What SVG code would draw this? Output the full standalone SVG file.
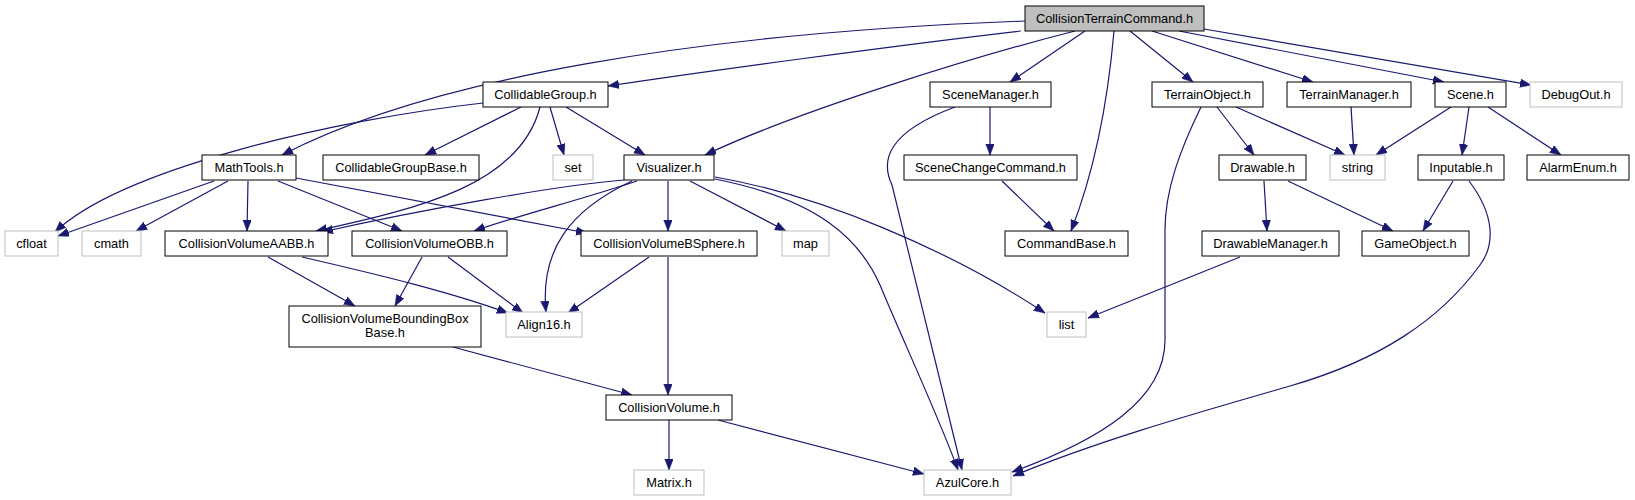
<svg xmlns="http://www.w3.org/2000/svg" width="1635" height="500" viewBox="0 0 1635 500">
<style>
.n rect{fill:#ffffff;stroke:#000000;stroke-width:1}
.g rect{fill:#ffffff;stroke:#bfbfbf;stroke-width:1}
.root rect{fill:#bfbfbf;stroke:#000000;stroke-width:1}
text{font-family:"Liberation Sans",Arial,sans-serif;font-size:12.8px;fill:#000000;text-anchor:middle}
#edges path{fill:none;stroke:#191970;stroke-width:1.2;marker-end:url(#arr)}
</style>
<defs>
<marker id="arr" markerUnits="userSpaceOnUse" markerWidth="12" markerHeight="9" refX="11" refY="4.25" orient="auto">
<path d="M0,0 L11,4.25 L0,8.5 z" fill="#191970" stroke="#191970" stroke-width="0.5"/>
</marker>
</defs>
<rect width="1635" height="500" fill="#ffffff"/>
<g id="edges">
<path d="M1025,21 C700,33 430,78 282,155"/>
<path d="M1021,31 C900,45 700,72 608,86"/>
<path d="M1075,31 C980,55 800,110 705,155"/>
<path d="M1085,31 L1010,82"/>
<path d="M1114,31 C1108,100 1095,170 1071,231"/>
<path d="M1130,31 L1193,82"/>
<path d="M1152,31 L1313,82"/>
<path d="M1179,31 L1444,82"/>
<path d="M1204,29 L1531,85"/>
<path d="M483,103 C330,120 120,170 55,232"/>
<path d="M521,107 L425,155"/>
<path d="M550,107 L564,155"/>
<path d="M566,107 L645,155"/>
<path d="M540,107 C520,185 420,208 316,231"/>
<path d="M214,181 L58,236"/>
<path d="M228,181 L136,231"/>
<path d="M248,181 L247,231"/>
<path d="M278,181 L402,231"/>
<path d="M296,178 L587,233"/>
<path d="M624,180 C560,185 420,210 322,232"/>
<path d="M637,181 C580,200 520,215 474,231"/>
<path d="M668,181 L668,231"/>
<path d="M690,181 L786,231"/>
<path d="M632,181 C570,210 540,250 546,312"/>
<path d="M715,177 C820,195 950,250 1045,313"/>
<path d="M715,179 C820,200 860,240 880,285 C905,345 940,420 958,470"/>
<path d="M955,107 C888,132 880,160 892,185 L962,470"/>
<path d="M990,107 L990,155"/>
<path d="M1002,181 L1054,231"/>
<path d="M1217,107 L1254,155"/>
<path d="M1236,107 L1345,155"/>
<path d="M1201,107 C1180,150 1165,190 1165,230 L1165,340 C1165,400 1100,440 1012,472"/>
<path d="M1351,107 L1354,155"/>
<path d="M1451,107 L1376,155"/>
<path d="M1469,107 L1462,155"/>
<path d="M1488,107 L1561,155"/>
<path d="M1264,181 L1267,231"/>
<path d="M1288,181 L1393,231"/>
<path d="M1453,181 L1423,231"/>
<path d="M1469,181 C1495,215 1495,245 1480,265 C1440,320 1380,360 1290,386 C1200,412 1100,440 1013,476"/>
<path d="M1240,257 L1088,318"/>
<path d="M268,257 L355,306"/>
<path d="M302,257 C380,275 450,292 508,313"/>
<path d="M422,257 L395,306"/>
<path d="M448,257 L523,313"/>
<path d="M649,257 L568,313"/>
<path d="M668,257 L668,395"/>
<path d="M453,347 L632,395"/>
<path d="M669,420 L669,470"/>
<path d="M718,420 L924,474"/>
</g>
<g id="CollisionTerrainCommand" class="root"><rect x="1025" y="6" width="179" height="25"/><text x="1114.5" y="23">CollisionTerrainCommand.h</text></g>
<g id="CollidableGroup" class="n"><rect x="483" y="82" width="125" height="25"/><text x="545.5" y="99">CollidableGroup.h</text></g>
<g id="SceneManager" class="n"><rect x="930" y="82" width="121" height="25"/><text x="990.5" y="99">SceneManager.h</text></g>
<g id="TerrainObject" class="n"><rect x="1152" y="82" width="111" height="25"/><text x="1207.5" y="99">TerrainObject.h</text></g>
<g id="TerrainManager" class="n"><rect x="1287" y="82" width="124" height="25"/><text x="1349" y="99">TerrainManager.h</text></g>
<g id="Scene" class="n"><rect x="1435" y="82" width="71" height="25"/><text x="1470.5" y="99">Scene.h</text></g>
<g id="DebugOut" class="g"><rect x="1530" y="82" width="92" height="25"/><text x="1576" y="99">DebugOut.h</text></g>
<g id="MathTools" class="n"><rect x="202" y="155" width="94" height="25"/><text x="249" y="172">MathTools.h</text></g>
<g id="CollidableGroupBase" class="n"><rect x="323" y="155" width="156" height="25"/><text x="401" y="172">CollidableGroupBase.h</text></g>
<g id="set" class="g"><rect x="553" y="155" width="40" height="25"/><text x="573" y="172">set</text></g>
<g id="Visualizer" class="n"><rect x="624" y="155" width="90" height="25"/><text x="669" y="172">Visualizer.h</text></g>
<g id="SceneChangeCommand" class="n"><rect x="904" y="155" width="173" height="25"/><text x="990.5" y="172">SceneChangeCommand.h</text></g>
<g id="Drawable" class="n"><rect x="1219" y="155" width="87" height="25"/><text x="1262.5" y="172">Drawable.h</text></g>
<g id="string" class="g"><rect x="1330" y="155" width="55" height="25"/><text x="1357.5" y="172">string</text></g>
<g id="Inputable" class="n"><rect x="1418" y="155" width="86" height="25"/><text x="1461" y="172">Inputable.h</text></g>
<g id="AlarmEnum" class="n"><rect x="1527" y="155" width="102" height="25"/><text x="1578" y="172">AlarmEnum.h</text></g>
<g id="cfloat" class="g"><rect x="5" y="231" width="53" height="25"/><text x="31.5" y="248">cfloat</text></g>
<g id="cmath" class="g"><rect x="82" y="231" width="59" height="25"/><text x="111.5" y="248">cmath</text></g>
<g id="CollisionVolumeAABB" class="n"><rect x="165" y="231" width="163" height="25"/><text x="246.5" y="248">CollisionVolumeAABB.h</text></g>
<g id="CollisionVolumeOBB" class="n"><rect x="352" y="231" width="155" height="25"/><text x="429.5" y="248">CollisionVolumeOBB.h</text></g>
<g id="CollisionVolumeBSphere" class="n"><rect x="581" y="231" width="176" height="25"/><text x="669" y="248">CollisionVolumeBSphere.h</text></g>
<g id="map" class="g"><rect x="782" y="231" width="47" height="25"/><text x="805.5" y="248">map</text></g>
<g id="CommandBase" class="n"><rect x="1005" y="231" width="123" height="25"/><text x="1066.5" y="248">CommandBase.h</text></g>
<g id="DrawableManager" class="n"><rect x="1202" y="231" width="137" height="25"/><text x="1270.5" y="248">DrawableManager.h</text></g>
<g id="GameObject" class="n"><rect x="1362" y="231" width="107" height="25"/><text x="1415.5" y="248">GameObject.h</text></g>
<g id="CollisionVolumeBoundingBoxBase" class="n"><rect x="289" y="306" width="192" height="41"/><text x="385" y="323">CollisionVolumeBoundingBox</text><text x="385" y="337">Base.h</text></g>
<g id="Align16" class="g"><rect x="506" y="312" width="76" height="25"/><text x="544" y="329">Align16.h</text></g>
<g id="list" class="g"><rect x="1047" y="312" width="39" height="25"/><text x="1066.5" y="329">list</text></g>
<g id="CollisionVolume" class="n"><rect x="606" y="395" width="126" height="25"/><text x="669" y="412">CollisionVolume.h</text></g>
<g id="Matrix" class="g"><rect x="634" y="470" width="70" height="25"/><text x="669" y="487">Matrix.h</text></g>
<g id="AzulCore" class="g"><rect x="924" y="470" width="87" height="25"/><text x="967.5" y="487">AzulCore.h</text></g>
</svg>
